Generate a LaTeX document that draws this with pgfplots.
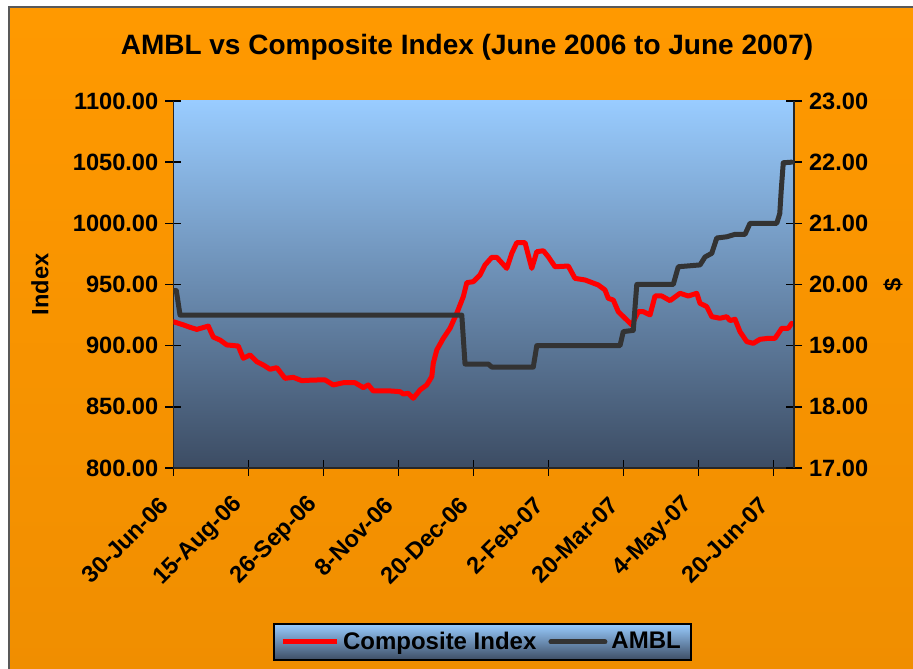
\documentclass[border=0pt]{standalone}
\usepackage{pgfplots}
\pgfplotsset{compat=1.18}
\usepackage{fontspec}
\setmainfont{Liberation Sans}

\definecolor{bgtop}{RGB}{255,153,0}
\definecolor{bgbot}{RGB}{240,142,0}
\definecolor{pltop}{RGB}{153,204,255}
\definecolor{plmid}{RGB}{115,150,192}
\definecolor{plbot}{RGB}{60,76,99}
\definecolor{ambl}{RGB}{51,51,51}

\pgfplotsset{
  chart/.style={
    at={(86.65pt,100pt)}, anchor=south west,
    scale only axis, width=310.35pt, height=183.5pt,
    xmin=0, xmax=248.3,
    tick align=center, major tick length=8pt,
    every tick/.style={black, line width=0.75pt},
    axis line style={black!85, line width=0.75pt},
    ticklabel style={font=\fontsize{11.8}{14}\selectfont\bfseries},
    yticklabel style={
      /pgf/number format/fixed,
      /pgf/number format/fixed zerofill,
      /pgf/number format/precision=2,
      /pgf/number format/1000 sep={},
      /pgf/number format/assume math mode=true},
    label style={font=\fontsize{11.8}{14}\selectfont\bfseries},
  }
}

\begin{document}
\begin{tikzpicture}
\path[use as bounding box] (0,0) rectangle (456.5pt,334pt);
\begin{scope}
  \clip (0,0) rectangle (456.5pt,334pt);
  \fill[white] (0,0) rectangle (456.5pt,334pt);
  \shade[top color=bgtop, bottom color=bgbot] (4.65pt,-5pt) rectangle (462pt,330.35pt);
  \draw[black!65, line width=1pt] (4.65pt,-5pt) -- (4.65pt,330.35pt) -- (462pt,330.35pt);
\end{scope}

% left axis: composite index
\begin{axis}[chart,
  ymin=800, ymax=1100, ytick={800,850,...,1100},
  axis x line*=bottom, axis y line*=left,
  xtick={0,30,...,240},
  xticklabels={30-Jun-06,15-Aug-06,26-Sep-06,8-Nov-06,20-Dec-06,2-Feb-07,20-Mar-07,4-May-07,20-Jun-07},
  xticklabel style={rotate=45, anchor=east, xshift=-3pt},
  xticklabel shift=8pt,
  axis background/.style={top color=pltop, middle color=plmid, bottom color=plbot},
  ylabel={Index},
  ylabel style={at={(axis description cs:-0.2148,0.5)}, anchor=center},
]
\addplot[red, line width=2.5pt, line join=round, line cap=round] coordinates {
(0,919.6) (4,917) (6.7,915) (9.4,913.3) (14,916) (16,907) (18.7,904.6) (21.4,900.6)
(26,899.7) (28,889.7) (30.7,892.4) (33.4,886.9) (36,884.2) (38.7,880.7) (41.4,882)
(44.7,873.3) (48,874.1) (51.4,871.4) (56,871.9) (60.7,872) (64,867.9) (68,869.7)
(72.7,869.7) (76,865.7) (78,867.9) (80,863) (86.7,863) (90.7,862.4) (92,860.5)
(94,861) (96,857) (98.7,863.8) (101.4,867.9) (103.4,874.7) (104,885.6) (105.4,896.5)
(108,906) (110.7,914.2) (113.4,926.5) (116,940) (117.4,951.5) (120,952.3) (122.7,957.8)
(124.7,966) (127.4,972.2) (129.4,972.2) (133.4,963.2) (135.4,975.5) (137.4,984.2)
(140.7,984.2) (143.4,963.2) (145.4,976.8) (148,977.6) (150,972.7) (152.7,964.5)
(158,965.1) (160.7,955) (164.7,953.7) (170,949.6) (172.7,945.5) (174,938.7) (176,937.3)
(178,927.8) (181.4,921) (183.4,916.9) (186,927.8) (188,927.8) (190.7,925.1) (192.7,940.6)
(195.4,940.6) (198.7,936.8) (202.7,942.8) (206,940.6) (209.4,942.8) (210.7,934.6)
(213.4,931.9) (215.4,923.7) (218.7,922.4) (221.4,923.7) (222.7,920.5) (224.7,921.6)
(226.7,911.4) (229.4,903.3) (232,901.9) (234.7,905.2) (238,906) (240.7,906)
(243.4,914.2) (246,914.2) (247.4,918.3)
};
\end{axis}

% right axis: AMBL price
\begin{axis}[chart,
  ymin=17, ymax=23, ytick={17,...,23},
  axis y line*=right, axis x line=none,
  ylabel={\$},
  ylabel style={at={(axis description cs:1.1595,0.5)}, anchor=center},
  legend columns=2,
  legend style={at={(axis description cs:0.498,-0.474)}, anchor=center,
    draw=black, line width=0.75pt, top color=pltop, bottom color=plbot,
    font=\fontsize{12}{14}\selectfont\bfseries,
    /tikz/every even column/.append style={column sep=4pt}},
  legend image code/.code={\draw[#1] (0pt,0pt) -- (27pt,0pt);},
]
\addlegendimage{red, line width=2.5pt}
\addlegendentry{Composite Index}
\addplot[ambl, line width=2.5pt, line join=round, line cap=round] coordinates {
(0,19.9) (1.2,19.9) (2.7,19.5) (115.4,19.5) (116.7,18.7) (126,18.7) (127.4,18.65)
(144,18.65) (145.4,19.0) (178.7,19.0) (180,19.23) (184,19.25) (185.4,20.0) (200,20.0)
(202,20.29) (210.7,20.32) (212.7,20.45) (215.4,20.51) (217.4,20.76) (221.4,20.78)
(224.7,20.82) (228.7,20.82) (230.7,21.0) (241.4,21.0) (242.6,21.16) (243.2,21.55)
(244,21.99) (247.4,22.0)
};
\addlegendentry{AMBL}
\end{axis}

\node[font=\fontsize{14}{17}\selectfont\bfseries] at (233.5pt,310.5pt)
  {AMBL vs Composite Index (June 2006 to June 2007)};
\end{tikzpicture}
\end{document}
